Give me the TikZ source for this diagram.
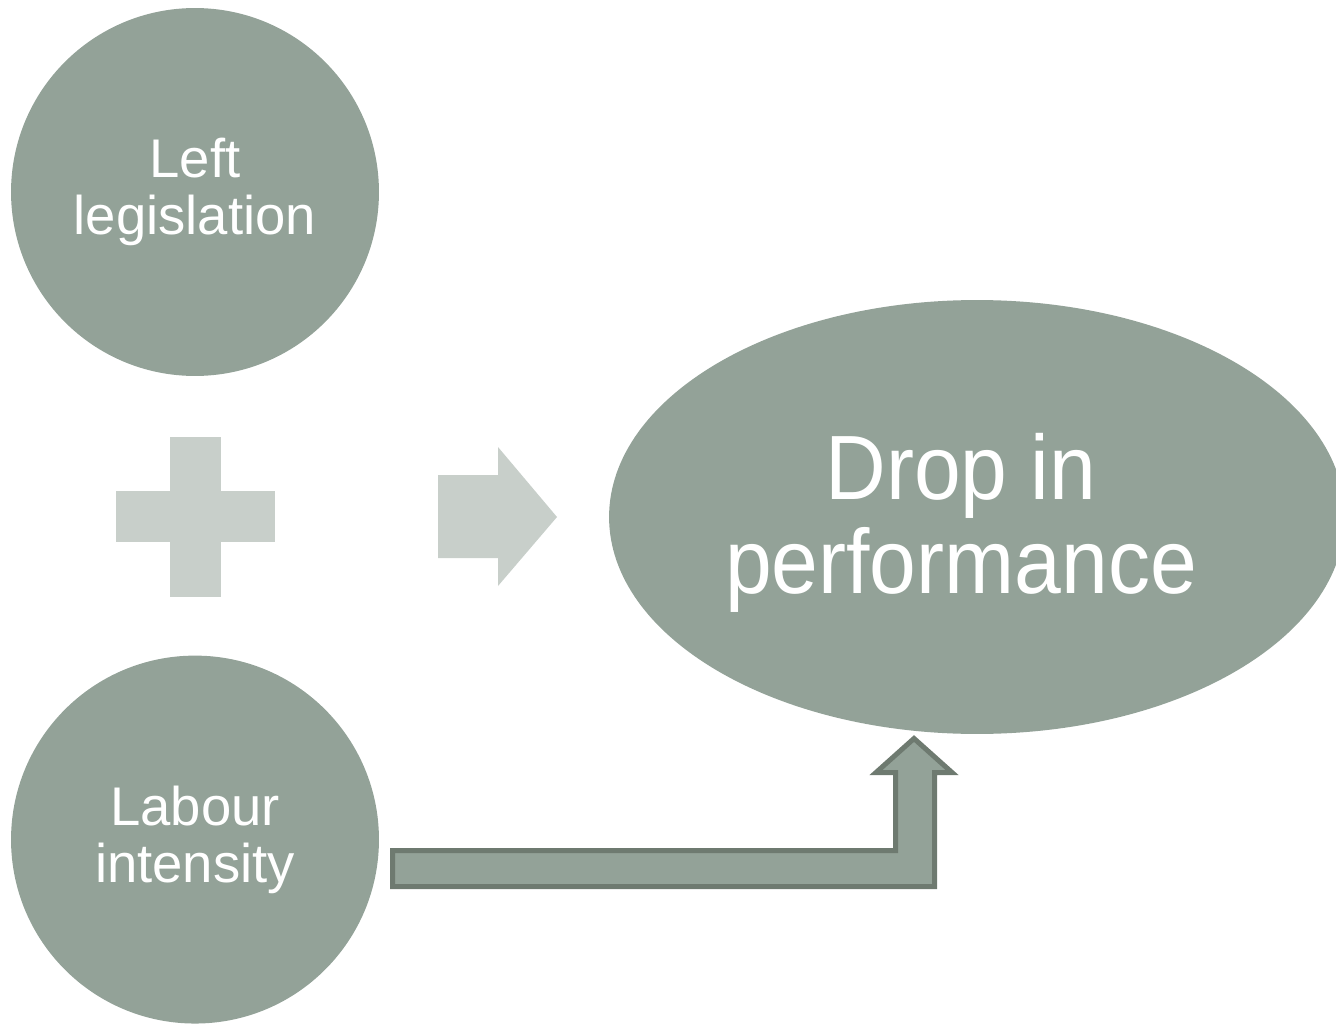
\documentclass[tikz,border=0pt]{standalone}
\usepackage{fontspec}
\setmainfont{Liberation Sans}
\newfontfamily\dropfont[FakeStretch=0.92]{Liberation Sans}
\usepackage{tikz}
\usetikzlibrary{shapes.geometric, positioning}
\definecolor{sage}{HTML}{93A298}
\definecolor{sagelight}{HTML}{C8CFCA}
\definecolor{sagedark}{HTML}{6E7A70}
\tikzstyle{factor} = [circle, minimum size=7.36cm, inner sep=0pt, fill=sage, text=white, align=center, font=\fontsize{31}{32.5}\selectfont]
\tikzstyle{outcome} = [ellipse, minimum width=14.72cm, minimum height=8.68cm, inner sep=0pt, fill=sage]
\tikzstyle{outcometext} = [inner sep=0pt, text=white, align=center, font=\dropfont\fontsize{52}{53.5}\selectfont]
\tikzstyle{sign} = [fill=sagelight]
\tikzstyle{bentarrow} = [fill=sage, draw=sagedark, line width=0.1cm, line join=miter]

\begin{document}
\begin{tikzpicture}[x=0.02cm, y=-0.02cm]
	    	\useasboundingbox (0,0) rectangle (1336,1024);
	    	\clip (0,0) rectangle (1336,1024);
	    	
	    	\node (leftLeg) [factor] at (195,192) {Left\\legislation};
	    	\node (labourInt) [factor, below=5.58cm of leftLeg] {Labour\\intensity};
	    	\node (dropPerf) [outcome] at (977,517) {};
	    	\node (dropPerfText) [outcometext, xshift=-0.32cm, yshift=-0.12cm] at (dropPerf.center) {Drop in\\performance};
	    	
	    	\fill [sign] (170,437) rectangle (221,597);
	    	\fill [sign] (116,491) rectangle (275,542);
	    	\fill [sign] (438,475) -- (498,475) -- (498,447) -- (557,517) -- (498,586) -- (498,558) -- (438,558) -- cycle;
	    	
	    	\coordinate (arrowTip) at (914,738.5);
	    	\coordinate (arrowTail) at (392.5,868.5);
	    	\draw [bentarrow] (arrowTail |- 0,850.5) -- (895.5,850.5) -- (895.5,772.5) -- (876,772.5) -- (arrowTip)
	    		-- (952,772.5) -- (934.5,772.5) -- (934.5,886.5) -- (arrowTail |- 0,886.5) -- cycle;
	    \end{tikzpicture}
\end{document}
